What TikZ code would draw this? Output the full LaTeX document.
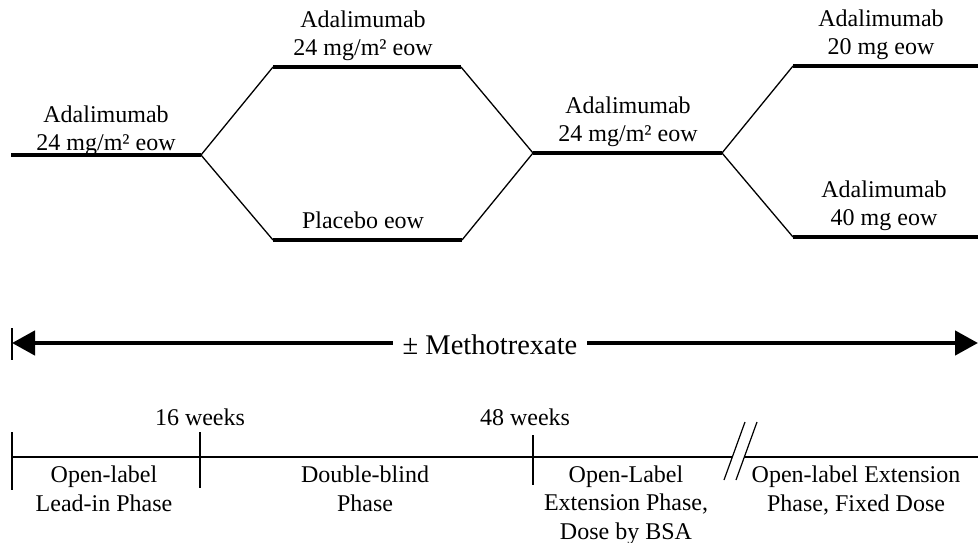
\documentclass[tikz,border=0pt]{standalone}
\usepackage{fontspec}
\setmainfont{Liberation Serif}
\usetikzlibrary{arrows.meta}
\begin{document}
\begin{tikzpicture}[x=1pt,y=-1pt,
  dose/.style={line width=3.4pt},
  branch/.style={line width=1.3pt},
  axis/.style={line width=1.6pt},
  lbl/.style={inner sep=0pt, align=center, font=\fontsize{24}{28.5}\selectfont},
  mtx/.style={fill=white, inner xsep=10pt, inner ysep=2pt, font=\fontsize{28.5}{33}\selectfont},
  bigtri/.tip={Triangle[length=23pt,width=24pt]}]
\useasboundingbox (0,0) rectangle (978,543);
% treatment arms
\coordinate (s0) at (11,155);
\coordinate (f1) at (201,155);
\coordinate (t1) at (273,67);
\coordinate (t2) at (461,67);
\coordinate (b1) at (273,240);
\coordinate (b2) at (462,240);
\coordinate (m1) at (533,153);
\coordinate (m2) at (722,153);
\coordinate (r1) at (793,66);
\coordinate (r1e) at (978,66);
\coordinate (r2) at (793,237);
\coordinate (r2e) at (978,237);
\draw[dose] (s0) -- (f1);
\draw[dose] (t1) -- (t2);
\draw[dose] (b1) -- (b2);
\draw[dose] (m1) -- (m2);
\draw[dose] (r1) -- (r1e);
\draw[dose] (r2) -- (r2e);
\draw[branch] (f1) -- (t1);
\draw[branch] (f1) -- (b1);
\draw[branch] (t2) -- (m1);
\draw[branch] (b2) -- (m1);
\draw[branch] (m2) -- (r1);
\draw[branch] (m2) -- (r2);
\node[lbl] (lead) at (106,130.7) {Adalimumab\\24 mg/m² eow};
\node[lbl] (dbA) at (363,35.7) {Adalimumab\\24 mg/m² eow};
\node[lbl,anchor=base] (dbP) at (363,228) {Placebo eow};
\node[lbl] (ole) at (628,121.7) {Adalimumab\\24 mg/m² eow};
\node[lbl] (f20) at (881,34.7) {Adalimumab\\20 mg eow};
\node[lbl] (f40) at (884,205.7) {Adalimumab\\40 mg eow};
% methotrexate arrow
\coordinate (aL) at (12,343);
\coordinate (aR) at (978,343);
\coordinate (barT) at (12,328);
\coordinate (barB) at (12,360);
\draw[line width=4.5pt, {bigtri}-{bigtri}] (aL) -- (aR);
\draw[axis] (barT) -- (barB);
\node[mtx, anchor=base] (mtx) at (490,354) {± Methotrexate};
% timeline
\coordinate (x0) at (12,457);
\coordinate (xb1) at (732.3,457);
\coordinate (xb2) at (744.3,457);
\coordinate (xe) at (978,457);
\draw[axis] (x0) -- (xb1);
\draw[axis] (xb2) -- (xe);
\coordinate (k0t) at (12,432); \coordinate (k0b) at (12,490);
\coordinate (k1t) at (200,432); \coordinate (k1b) at (200,488);
\coordinate (k2t) at (533,435); \coordinate (k2b) at (533,485);
\draw[axis] (k0t) -- (k0b);
\draw[axis] (k1t) -- (k1b);
\draw[axis] (k2t) -- (k2b);
\coordinate (sa1) at (724,480); \coordinate (sa2) at (745,422);
\coordinate (sb1) at (736,480); \coordinate (sb2) at (757,422);
\draw[line width=1.2pt] (sa1) -- (sa2);
\draw[line width=1.2pt] (sb1) -- (sb2);
\node[lbl,anchor=base] (w16) at (200,425) {16 weeks};
\node[lbl,anchor=base] (w48) at (525,425) {48 weeks};
\node[lbl] (p1) at (104,489) {Open-label\\Lead-in Phase};
\node[lbl] (p2) at (365,489) {Double-blind\\Phase};
\node[lbl] (p3) at (626,504.9) {Open-Label\\Extension Phase,\\Dose by BSA};
\node[lbl] (p4) at (856,490.5) {Open-label Extension\\Phase, Fixed Dose};
\end{tikzpicture}
\end{document}
